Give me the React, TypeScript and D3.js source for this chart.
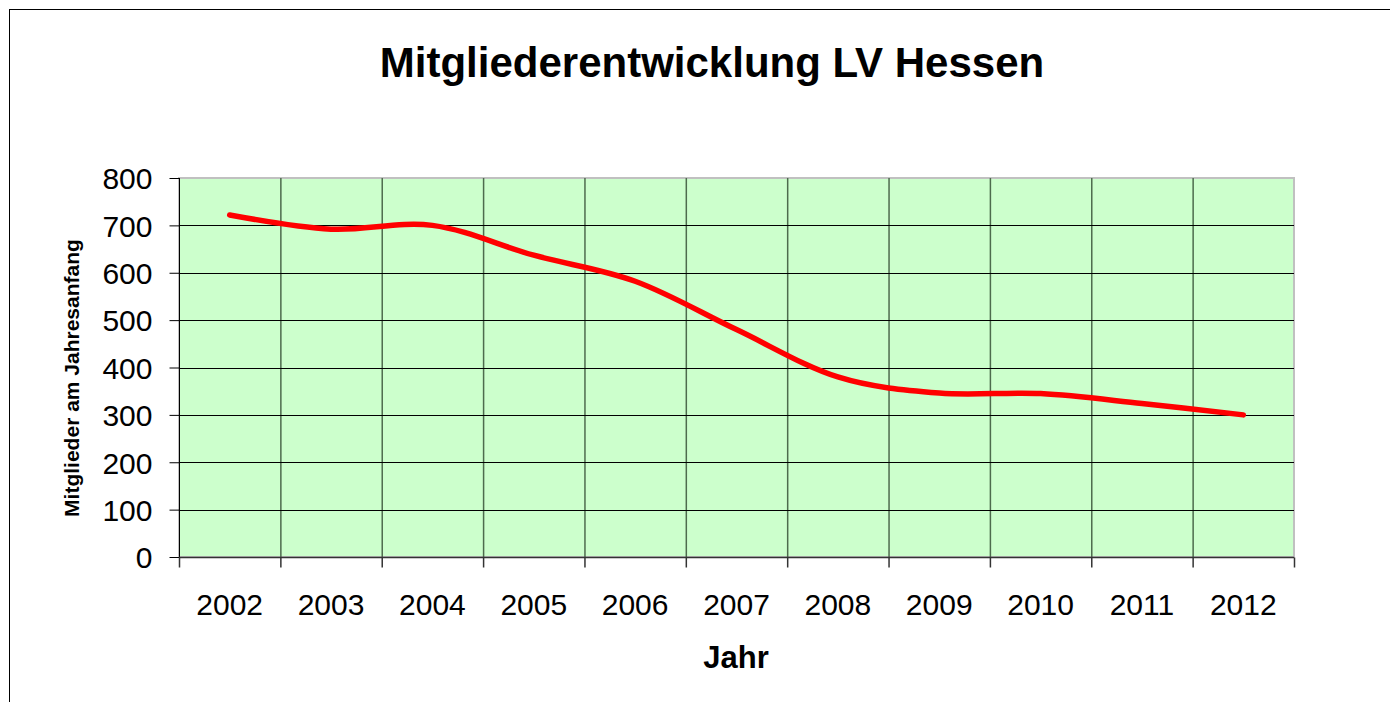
import React, { useEffect, useRef } from "react";
import * as d3 from "d3";

const years = ["2002", "2003", "2004", "2005", "2006", "2007", "2008", "2009", "2010", "2011", "2012"];
const members = [722, 692, 700, 637, 582, 480, 380, 346, 345, 324, 300];
const yTicks = [0, 100, 200, 300, 400, 500, 600, 700, 800];

function App() {
  const svgRef = useRef<SVGSVGElement>(null);

  useEffect(() => {
    const svg = d3.select(svgRef.current);
    svg.selectAll("*").remove();

    const width = 1390, height = 702;
    const left = 179, right = 1294, top = 178, bottom = 557;
    const font = "Arial, 'Liberation Sans', sans-serif";

    // outer chart frame (right/bottom sides outside the picture)
    svg.append("rect")
      .attr("x", 9.5).attr("y", 9.5)
      .attr("width", width + 20).attr("height", height + 20)
      .attr("fill", "#fff").attr("stroke", "#000").attr("stroke-width", 1);

    const x = d3.scaleBand().domain(years).range([left, right]);
    const y = d3.scaleLinear().domain([0, 800]).range([bottom, top]);

    svg.append("rect")
      .attr("x", left).attr("y", top)
      .attr("width", right - left).attr("height", bottom - top)
      .attr("fill", "#ccffcc")
      .attr("stroke", "#c0c0c0").attr("stroke-width", 2);

    // vertical gridlines at category borders
    const borders = years.map(d => x(d)!).concat([right]);
    svg.append("g").selectAll("line")
      .data(borders.slice(1, -1))
      .enter().append("line")
      .attr("x1", d => d + 0.5).attr("x2", d => d + 0.5)
      .attr("y1", top).attr("y2", bottom)
      .attr("stroke", "#4d6b4d").attr("stroke-width", 1.5);

    // horizontal gridlines
    svg.append("g").selectAll("line")
      .data(yTicks.slice(1, -1))
      .enter().append("line")
      .attr("x1", left).attr("x2", right)
      .attr("y1", d => Math.round(y(d)) + 0.5).attr("y2", d => Math.round(y(d)) + 0.5)
      .attr("stroke", "#000").attr("stroke-width", 1);

    // y axis
    const yAxis = svg.append("g")
      .attr("transform", `translate(${left + 0.5},0)`)
      .call(d3.axisLeft(y).tickValues(yTicks).tickSize(10).tickPadding(17));
    yAxis.select(".domain").attr("stroke", "#000").attr("d", `M0,${top}V${bottom}`);
    yAxis.selectAll(".tick line").attr("stroke", "#000");
    yAxis.selectAll("text")
      .attr("font-family", font).attr("font-size", 30).attr("fill", "#000")
      .attr("dy", "0.36em");

    // x axis
    const xAxisG = svg.append("g").attr("transform", `translate(0,${bottom + 0.5})`);
    xAxisG.append("line")
      .attr("x1", left).attr("x2", right).attr("y1", 0).attr("y2", 0)
      .attr("stroke", "#333").attr("stroke-width", 1.5);
    xAxisG.selectAll("line.tk")
      .data(borders)
      .enter().append("line")
      .attr("class", "tk")
      .attr("x1", d => d + 0.5).attr("x2", d => d + 0.5)
      .attr("y1", 0).attr("y2", 10)
      .attr("stroke", "#333").attr("stroke-width", 1.5);
    xAxisG.selectAll("text")
      .data(years)
      .enter().append("text")
      .attr("x", d => x(d)! + x.bandwidth() / 2)
      .attr("y", 57)
      .attr("text-anchor", "middle")
      .attr("font-family", font).attr("font-size", 30).attr("fill", "#000")
      .text(d => d);

    // line
    const line = d3.line<number>()
      .x((_, i) => x(years[i])! + x.bandwidth() / 2)
      .y(d => y(d))
      .curve(d3.curveCardinal.tension(0));
    svg.append("path")
      .datum(members)
      .attr("d", line)
      .attr("fill", "none")
      .attr("stroke", "#ff0000")
      .attr("stroke-width", 5.5)
      .attr("stroke-linecap", "round")
      .attr("stroke-linejoin", "round");

    // titles
    svg.append("text")
      .attr("x", 712).attr("y", 77)
      .attr("text-anchor", "middle")
      .attr("font-family", font).attr("font-weight", "bold").attr("font-size", 42)
      .text("Mitgliederentwicklung LV Hessen");

    svg.append("text")
      .attr("x", 736).attr("y", 668)
      .attr("text-anchor", "middle")
      .attr("font-family", font).attr("font-weight", "bold").attr("font-size", 31)
      .text("Jahr");

    svg.append("text")
      .attr("transform", `translate(79,378) rotate(-90)`)
      .attr("text-anchor", "middle")
      .attr("font-family", font).attr("font-weight", "bold").attr("font-size", 21)
      .text("Mitglieder am Jahresanfang");
  }, []);

  return (
    <svg ref={svgRef} width={1390} height={702}
      style={{ position: "absolute", left: 0, top: 0, background: "#fff" }} />
  );
}

export default App;
